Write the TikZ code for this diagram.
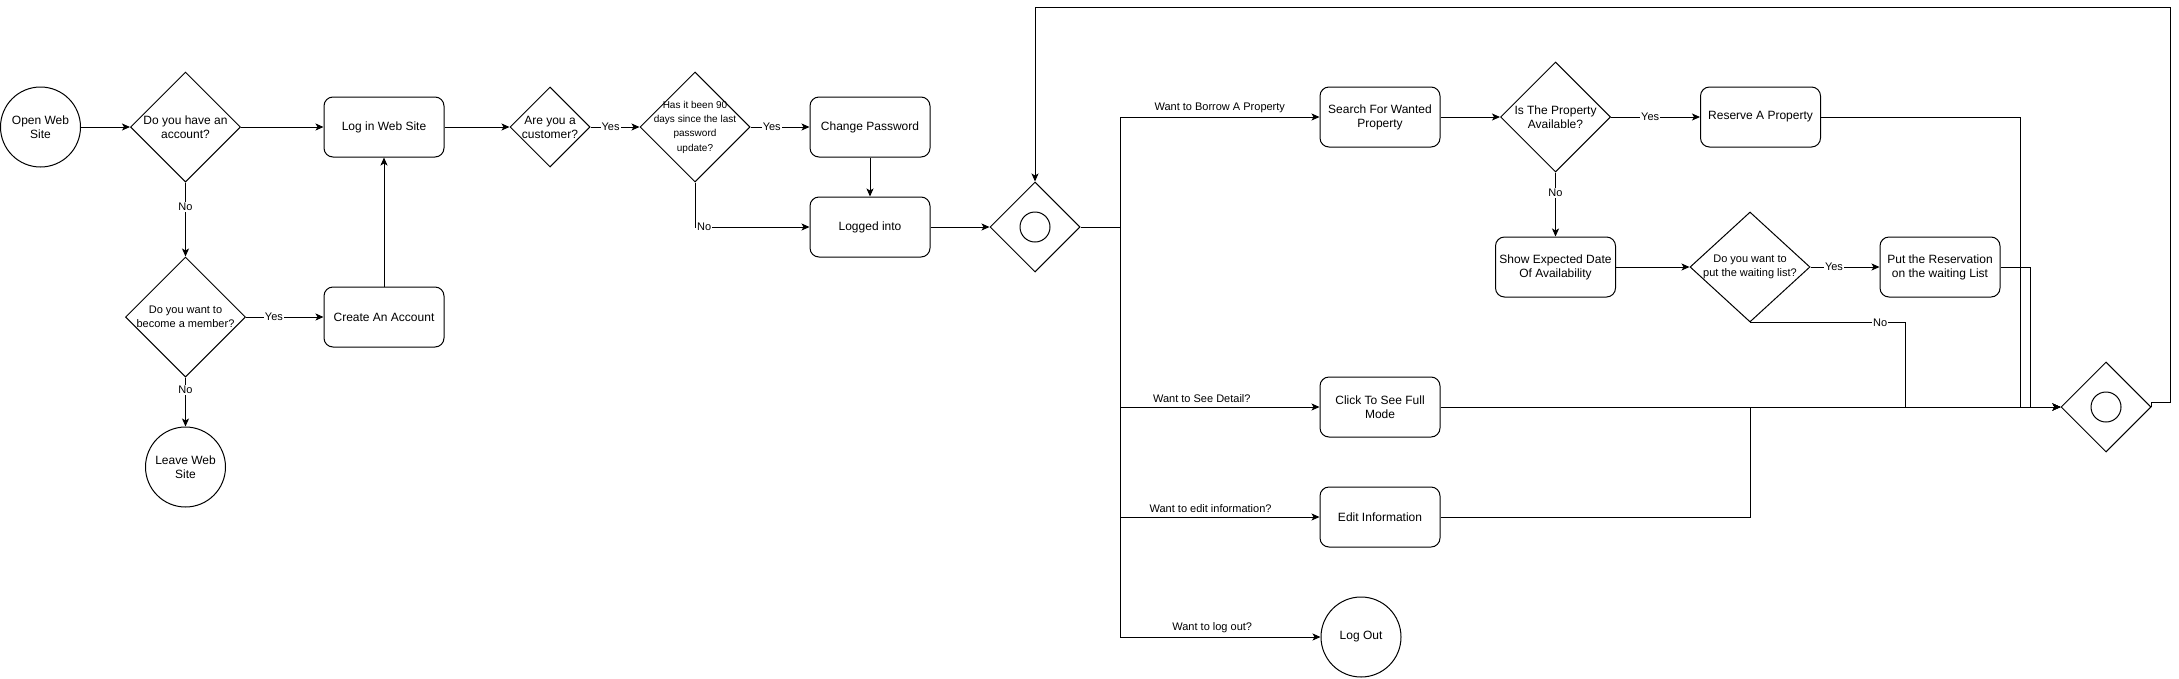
\documentclass[tikz,border=0pt]{standalone}
\usepackage{fontspec}
\setmainfont{Liberation Sans}
\usetikzlibrary{shapes.geometric,arrows.meta}

\begin{document}
\begin{tikzpicture}[x=1pt, y=-1pt, line width=1pt, >={Stealth[length=8pt,width=7pt,inset=2pt]},
        font=\fontsize{12}{14}\selectfont,
        proc/.style={draw, rectangle, rounded corners=9pt, minimum width=120, minimum height=60, align=center, inner sep=1pt},
        term/.style={draw, circle, minimum size=80, inner sep=0pt, align=center},
        choice/.style={draw, diamond, inner sep=0pt, minimum size=#1},
        choice/.default=110,
        qtext/.style={align=center, inner sep=0pt},
        gate/.style={draw, diamond, inner sep=0pt, minimum size=90},
        ring/.style={draw, circle, inner sep=0pt, minimum size=30},
        lab/.style={font=\fontsize{11}{13}\selectfont, fill=white, inner sep=1pt},
        branch/.style={font=\fontsize{11}{13}\selectfont, above=3pt, inner sep=1pt}]

        \useasboundingbox (0,0) rectangle (2179,678);

        % Entry and account check
        \node (open) [term] at (40.5,127) {Open Web\\Site};
        \node (acct) [choice, label={[qtext]center:Do you have an\\account?}] at (185.5,127) {};
        \node (member) [choice=120, label={[qtext, font=\fontsize{11}{14}\selectfont]center:Do you want to\\become a member?}] at (185.5,317) {};
        \node (leave) [term] at (185.5,467) {Leave Web\\Site};
        \node (create) [proc] at (384,317) {Create An Account};
        \node (login) [proc] at (384,127) {Log in Web Site};

        % Login checks
        \node (cust) [choice=80, label={[qtext]center:Are you a\\customer?}] at (550,127) {};
        \node (days) [choice, label={[qtext, font=\fontsize{10}{14.3}\selectfont]center:Has it been 90\\days since the last\\password\\update?}] at (695,127) {};
        \node (chpw) [proc] at (870,127) {Change Password};
        \node (logged) [proc] at (870,227) {Logged into};
        \node (gw1) [gate] at (1035,227) {};
        \node (gw1c) [ring] at (gw1) {};

        % Menu branches
        \coordinate (trunk) at (1120,227);
        \node (search) [proc] at (1380,117) {Search For Wanted\\Property};
        \node (avail) [choice, label={[qtext]center:Is The Property\\Available?}] at (1555.5,117) {};
        \node (reserve) [proc] at (1760.5,117) {Reserve A Property};
        \node (expect) [proc] at (1555.5,267) {Show Expected Date\\Of Availability};
        \node (wait) [choice, minimum width=120, label={[qtext, font=\fontsize{11}{14}\selectfont]center:Do you want to\\put the waiting list?}] at (1750,267) {};
        \node (queue) [proc] at (1940,267) {Put the Reservation\\on the waiting List};
        \node (detail) [proc] at (1380,407) {Click To See Full\\Mode};
        \node (edit) [proc] at (1380,517) {Edit Information};
        \node (logout) [term] at (1361,637) {Log Out};
        \node (gw2) [gate] at (2106,407) {};
        \node (gw2c) [ring] at (gw2) {};

        % Merge points
        \coordinate (mNo) at (1905,407);
        \coordinate (mEdit) at (1750,407);
        \coordinate (mRes) at (2020,407);
        \coordinate (mQueue) at (2030,407);
        \coordinate (loopTop) at (2170,7);

        % Arrows before login
        \draw[->] (open) -- (acct);
        \draw[->] (acct) -- (login);
        \draw[->] (acct) -- node[lab, pos=0.33]{No} (member);
        \draw[->] (member) -- node[lab, pos=0.36]{Yes} (create);
        \draw[->] (member) -- node[lab, pos=0.26]{No} (leave);
        \draw[->] (create) -- (login);

        % Arrows after login
        \draw[->] (login) -- (cust);
        \draw[->] (cust) -- node[lab, pos=0.41]{Yes} (days);
        \draw[->] (days) -- node[lab, pos=0.36]{Yes} (chpw);
        \draw[->] (chpw) -- (logged);
        \draw[->] (days) |- node[lab, pos=0.54]{No} (logged);
        \draw[->] (logged) -- (gw1);

        % Branch arrows
        \draw[->] (gw1) -- (trunk) |- node[branch, pos=0.75]{Want to Borrow A Property} (search);
        \draw[->] (trunk) |- node[branch, pos=0.705]{Want to See Detail?} (detail);
        \draw[->] (trunk) |- node[branch, pos=0.727]{Want to edit information?} (edit);
        \draw[->] (trunk) |- node[branch, pos=0.73]{Want to log out?} (logout);

        % Borrow arrows
        \draw[->] (search) -- (avail);
        \draw[->] (avail) -- node[lab, pos=0.44]{Yes} (reserve);
        \draw[->] (avail) -- node[lab, pos=0.32]{No} (expect);
        \draw[->] (expect) -- (wait);
        \draw[->] (wait) -- node[lab, pos=0.34]{Yes} (queue);

        % Arrows into the second gateway
        \draw[->] (wait.south) -| node[lab, pos=0.42]{No} (mNo) -- (gw2);
        \draw[->] (detail) -- (gw2);
        \draw[->] (edit) -| (mEdit) -- (gw2);
        \draw[->] (reserve) -| (mRes) -- (gw2);
        \draw[->] (queue) -| (mQueue) -- (gw2);
        \draw[->] (gw2.east) -- ++(0,-5) -| (loopTop) -| (gw1);

        \end{tikzpicture}
\end{document}
